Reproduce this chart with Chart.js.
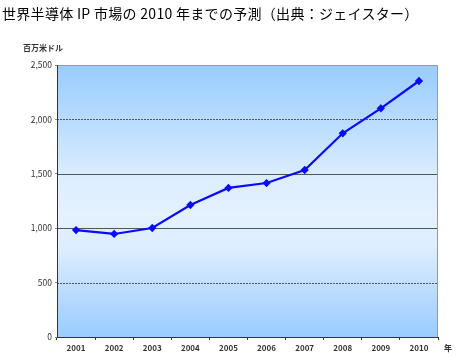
<!DOCTYPE html>
<html>
<head>
<meta charset="utf-8">
<script src="https://cdn.jsdelivr.net/npm/chart.js@4.4.0/dist/chart.umd.min.js"></script>
<style>
  html, body { margin:0; padding:0; background:#fff; }
  #wrap { position:relative; width:457px; height:356px; overflow:hidden; }
  canvas { position:absolute; left:0; top:0; }
  .t { position:absolute; white-space:nowrap; color:#000; }
  #title { left:2px; top:3px; font:14px "Noto Sans CJK JP", sans-serif; letter-spacing:0.3px; }
  #unit { left:23px; top:42px; font:bold 8px "Noto Sans CJK JP", sans-serif; color:#333; }
  #yr { left:444px; top:342px; font:bold 8px "Noto Sans CJK JP", sans-serif; color:#333; }
</style>
</head>
<body>
<div id="wrap">
  <canvas id="c" width="457" height="356"></canvas>
  <div class="t" id="title">世界半導体 IP 市場の 2010 年までの予測（出典：ジェイスター）</div>
  <div class="t" id="unit">百万米ドル</div>
  <div class="t" id="yr">年</div>
</div>
<script>
const categories = ['2001','2002','2003','2004','2005','2006','2007','2008','2009','2010'];
const marketValues = [983, 947, 1002, 1213, 1370, 1415, 1535, 1872, 2102, 2353];
const yTicks = [0, 500, 1000, 1500, 2000, 2500];
const dashedLevels = [500, 2000];
const solidLevels = [1000, 1500];

const bgPlugin = {
  id: 'bg',
  beforeDraw(chart) {
    const {ctx, chartArea: a} = chart;
    const g = ctx.createLinearGradient(0, a.top, 0, a.bottom);
    g.addColorStop(0, '#99CCFF');
    g.addColorStop(0.22, '#BBDDFF');
    g.addColorStop(0.42, '#DDEEFF');
    g.addColorStop(0.55, '#E4F1FF');
    g.addColorStop(0.68, '#DCEDFF');
    g.addColorStop(0.85, '#B8DAFF');
    g.addColorStop(1, '#99CCFF');
    ctx.save();
    ctx.fillStyle = g;
    ctx.fillRect(a.left, a.top, a.right - a.left, a.bottom - a.top);
    const y = chart.scales.y;
    ctx.lineWidth = 1;
    ctx.strokeStyle = '#555555';
    solidLevels.forEach(v => {
      const py = Math.round(y.getPixelForValue(v)) + 0.5;
      ctx.beginPath(); ctx.moveTo(a.left, py); ctx.lineTo(a.right, py); ctx.stroke();
    });
    ctx.setLineDash([2, 1]);
    dashedLevels.forEach(v => {
      const py = Math.round(y.getPixelForValue(v)) + 0.5;
      ctx.beginPath(); ctx.moveTo(a.left, py); ctx.lineTo(a.right, py); ctx.stroke();
    });
    ctx.setLineDash([]);
    ctx.strokeStyle = '#999999';
    ctx.beginPath();
    ctx.moveTo(a.left, a.top + 0.5); ctx.lineTo(a.right - 0.5, a.top + 0.5); ctx.lineTo(a.right - 0.5, a.bottom);
    ctx.stroke();
    ctx.restore();
  }
};

new Chart(document.getElementById('c'), {
  type: 'line',
  data: {
    labels: categories,
    datasets: [{
      data: marketValues,
      borderColor: '#0A0AFF',
      backgroundColor: '#0A0AFF',
      borderWidth: 2.2,
      pointStyle: 'rectRot',
      pointRadius: 2.6,
      pointHoverRadius: 2.6,
      tension: 0,
      fill: false
    }]
  },
  options: {
    responsive: false,
    animation: false,
    devicePixelRatio: 1,
    layout: { padding: { left: 0, right: 19, top: 65, bottom: 0 } },
    plugins: { legend: { display: false }, tooltip: { enabled: false }, title: { display: false } },
    scales: {
      x: {
        type: 'category',
        offset: true,
        afterFit(s) { s.height = 19; },
        grid: { offset: true, drawOnChartArea: false, drawTicks: true, tickLength: 3, color: '#333333' },
        border: { display: true, color: '#333333', width: 1 },
        ticks: { color: '#333333', font: { family: '"Noto Sans CJK JP", sans-serif', size: 8, weight: 'bold' }, padding: 3, maxRotation: 0 }
      },
      y: {
        min: 0, max: 2500,
        afterFit(s) { s.width = 57; },
        afterBuildTicks(s) { s.ticks = yTicks.map(v => ({ value: v })); },
        grid: { drawOnChartArea: false, drawTicks: true, tickLength: 2, color: '#888888' },
        border: { display: true, color: '#333333', width: 1 },
        ticks: {
          color: '#333333', padding: 3,
          font: { family: '"Noto Sans CJK JP", sans-serif', size: 8.5 },
          callback: v => v.toLocaleString('en-US')
        }
      }
    }
  },
  plugins: [bgPlugin]
});
</script>
</body>
</html>
